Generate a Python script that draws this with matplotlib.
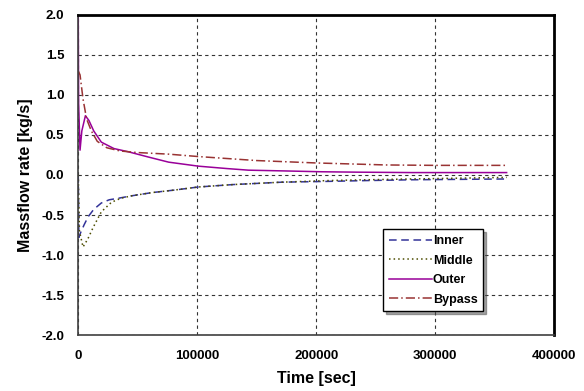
import matplotlib
matplotlib.use('Agg')
import matplotlib.pyplot as plt

plt.rcParams['font.family'] = ['Liberation Sans', 'DejaVu Sans']

# values
t_inner = [0, 500, 2000, 5000, 8400, 13000, 19400, 26000, 34000, 45000, 62000, 80000, 101000, 130000,
           171000, 210000, 242000, 280000, 320000, 360000]
inner = [0.0, -0.78, -0.72, -0.62, -0.52, -0.43, -0.35, -0.31, -0.29, -0.26, -0.22, -0.19, -0.15, -0.12,
         -0.09, -0.08, -0.07, -0.06, -0.055, -0.05]

t_middle = [0, 1000, 4000, 8000, 12700, 19400, 28000, 36000, 45000, 62000, 80000, 101000, 130000,
            171000, 210000, 242000, 280000, 320000, 360000]
middle = [0.0, -0.7, -0.9, -0.8, -0.65, -0.46, -0.34, -0.29, -0.26, -0.22, -0.19, -0.15, -0.12,
          -0.09, -0.07, -0.06, -0.05, -0.04, -0.03]

t_outer = [0, 300, 1500, 3000, 6000, 9000, 13000, 19400, 30000, 42000, 60000, 76000, 101000, 125000,
           143000, 175000, 205000, 235000, 280000, 320000, 360000]
outer = [2.0, 0.9, 0.31, 0.55, 0.74, 0.68, 0.55, 0.41, 0.33, 0.29, 0.22, 0.16, 0.11, 0.08,
         0.06, 0.05, 0.04, 0.035, 0.03, 0.03, 0.03]

t_bypass = [0, 1500, 4000, 7000, 11000, 16000, 24000, 35000, 50000, 76000, 101000, 150000, 200000,
            259000, 300000, 360000]
bypass = [1.3, 1.25, 0.95, 0.7, 0.55, 0.42, 0.34, 0.3, 0.28, 0.26, 0.23, 0.18, 0.15, 0.125, 0.12, 0.12]

fig = plt.figure(figsize=(5.84, 3.91), dpi=100)
ax = fig.add_axes([0.134, 0.143, 0.815, 0.819])

ax.plot(t_inner, inner, color='#333399', linestyle=(0, (5, 3)), linewidth=1.1, label='Inner')
ax.plot(t_middle, middle, color='#4d4d00', linestyle=(0, (1, 2)), linewidth=1.1, label='Middle')
ax.plot(t_outer, outer, color='#990099', linestyle='-', linewidth=1.1, label='Outer')
ax.plot(t_bypass, bypass, color='#993333', linestyle=(0, (6, 2, 1, 2)), linewidth=1.1, label='Bypass')

ax.set_xlim(0, 400000)
ax.set_ylim(-2.0, 2.0)
ax.set_xticks([0, 100000, 200000, 300000, 400000])
ax.set_yticks([-2.0, -1.5, -1.0, -0.5, 0.0, 0.5, 1.0, 1.5, 2.0])
ax.set_yticklabels(['%.1f' % v for v in ax.get_yticks()])
ax.tick_params(axis='x', length=0, labelsize=9.5, pad=11)
ax.tick_params(axis='y', length=0, labelsize=9.5, pad=10)
for lab in ax.get_xticklabels() + ax.get_yticklabels():
    lab.set_fontweight('bold')
ax.grid(True, color='#333333', linestyle=(0, (3, 3)), linewidth=0.8)

for side in ['top', 'right']:
    ax.spines[side].set_linewidth(2)
    ax.spines[side].set_color('black')
for side in ['left', 'bottom']:
    ax.spines[side].set_linewidth(1.2)
    ax.spines[side].set_color('#404040')

ax.set_xlabel('Time [sec]', fontsize=11.5, fontweight='bold', labelpad=6)
ax.set_ylabel('Massflow rate [kg/s]', fontsize=11.5, fontweight='bold', labelpad=6)

leg = ax.legend(loc='lower left', bbox_to_anchor=(0.628, 0.055), fancybox=False, shadow=True,
                edgecolor='black', framealpha=1, fontsize=9, handlelength=3.4,
                handletextpad=0.1, borderpad=0.45, labelspacing=0.6)
leg.get_frame().set_linewidth(1.0)
for txt in leg.get_texts():
    txt.set_fontweight('bold')

fig.savefig('out.png', dpi=100)
